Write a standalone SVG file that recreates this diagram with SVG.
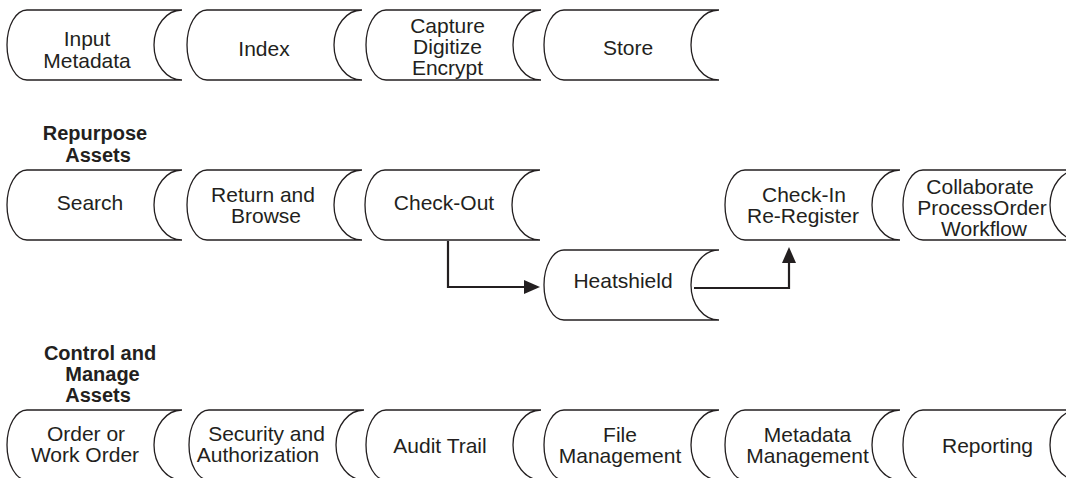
<svg xmlns="http://www.w3.org/2000/svg" xmlns:xlink="http://www.w3.org/1999/xlink" width="1066" height="478" viewBox="0 0 1066 478">
  <style>
    .drum { fill: #ffffff; stroke: #231f20; stroke-width: 1.3; }
    .lbl { font-family: "Liberation Sans", Arial, sans-serif; font-size: 21px; fill: #231f20; text-anchor: middle; }
    .hdr { font-family: "Liberation Sans", Arial, sans-serif; font-size: 20px; font-weight: bold; fill: #231f20; text-anchor: middle; }
    .wire { fill: none; stroke: #231f20; stroke-width: 2.2; }
  </style>
  <defs>
    <!-- stored-data shape: convex left end, concave right end -->
    <path id="drum" d="M20,0 H175 A28,35 0 0 0 175,70 H20 A20,35 0 0 1 20,0 Z"/>
    <marker id="arrow" markerUnits="userSpaceOnUse" viewBox="0 0 16 14" refX="6" refY="7" markerWidth="16" markerHeight="14" orient="auto">
      <path d="M0,0 L16,7 L0,14 Z" fill="#231f20"/>
    </marker>
  </defs>

  <rect width="1066" height="478" fill="#ffffff"/>

  <!-- ingest row -->
  <g id="input-metadata">
    <use xlink:href="#drum" class="drum" transform="translate(7,10)"/>
    <text class="lbl" x="87" y="46">Input</text>
    <text class="lbl" x="87" y="68">Metadata</text>
  </g>
  <g id="index">
    <use xlink:href="#drum" class="drum" transform="translate(187,10)"/>
    <text class="lbl" x="264" y="56">Index</text>
  </g>
  <g id="capture">
    <use xlink:href="#drum" class="drum" transform="translate(366,10)"/>
    <text class="lbl" x="447.5" y="33">Capture</text>
    <text class="lbl" x="447.5" y="54">Digitize</text>
    <text class="lbl" x="447.5" y="75">Encrypt</text>
  </g>
  <g id="store">
    <use xlink:href="#drum" class="drum" transform="translate(544,10)"/>
    <text class="lbl" x="628" y="55">Store</text>
  </g>

  <!-- repurpose row -->
  <g id="repurpose-header">
    <text class="hdr" x="95" y="140">Repurpose</text>
    <text class="hdr" x="98" y="161.5">Assets</text>
  </g>
  <g id="search">
    <use xlink:href="#drum" class="drum" transform="translate(7,170)"/>
    <text class="lbl" x="90" y="210">Search</text>
  </g>
  <g id="return-browse">
    <use xlink:href="#drum" class="drum" transform="translate(187,170)"/>
    <text class="lbl" x="263" y="201.5">Return and</text>
    <text class="lbl" x="266" y="222.5">Browse</text>
  </g>
  <g id="check-out">
    <use xlink:href="#drum" class="drum" transform="translate(365,170)"/>
    <text class="lbl" x="444" y="210">Check-Out</text>
  </g>
  <g id="heatshield">
    <use xlink:href="#drum" class="drum" transform="translate(544,250)"/>
    <text class="lbl" x="623" y="287.7">Heatshield</text>
  </g>
  <g id="check-in">
    <use xlink:href="#drum" class="drum" transform="translate(725,170)"/>
    <text class="lbl" x="804" y="201.5">Check-In</text>
    <text class="lbl" x="803" y="222.5">Re-Register</text>
  </g>
  <g id="collaborate">
    <use xlink:href="#drum" class="drum" transform="translate(903,170)"/>
    <text class="lbl" x="980" y="194">Collaborate</text>
    <text class="lbl" x="982" y="215">ProcessOrder</text>
    <text class="lbl" x="984" y="236">Workflow</text>
  </g>

  <!-- control row -->
  <g id="control-header">
    <text class="hdr" x="100" y="360">Control and</text>
    <text class="hdr" x="102.5" y="381">Manage</text>
    <text class="hdr" x="98" y="402">Assets</text>
  </g>
  <g id="work-order">
    <use xlink:href="#drum" class="drum" transform="translate(7,410)"/>
    <text class="lbl" x="86" y="441">Order or</text>
    <text class="lbl" x="85" y="462">Work Order</text>
  </g>
  <g id="security">
    <use xlink:href="#drum" class="drum" transform="translate(189,410)"/>
    <text class="lbl" x="266.5" y="441">Security and</text>
    <text class="lbl" x="258" y="462">Authorization</text>
  </g>
  <g id="audit-trail">
    <use xlink:href="#drum" class="drum" transform="translate(366,410)"/>
    <text class="lbl" x="440" y="453">Audit Trail</text>
  </g>
  <g id="file-management">
    <use xlink:href="#drum" class="drum" transform="translate(544,410)"/>
    <text class="lbl" x="620" y="441.5">File</text>
    <text class="lbl" x="620" y="462.5">Management</text>
  </g>
  <g id="metadata-management">
    <use xlink:href="#drum" class="drum" transform="translate(725,410)"/>
    <text class="lbl" x="807.5" y="441.5">Metadata</text>
    <text class="lbl" x="807.5" y="462.5">Management</text>
  </g>
  <g id="reporting">
    <use xlink:href="#drum" class="drum" transform="translate(903,410)"/>
    <text class="lbl" x="987.5" y="453">Reporting</text>
  </g>

  <!-- connectors -->
  <g id="connectors">
    <path class="wire" d="M448,241 V287 H530" marker-end="url(#arrow)"/>
    <path class="wire" d="M694,288 H789 V257" marker-end="url(#arrow)"/>
  </g>
</svg>
